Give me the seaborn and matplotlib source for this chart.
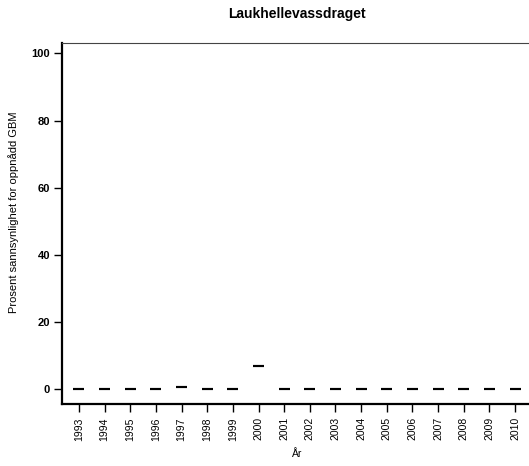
import pandas as pd
import numpy as np
import seaborn as sns
import matplotlib.pyplot as plt

years = [str(y) for y in range(1993, 2011)]
values = [0.1, 0.1, 0.1, 0.1, 0.8, 0.1, 0.1, 6.9, 0.1, 0.1,
          0.1, 0.1, 0.1, 0.1, 0.1, 0.1, 0.1, 0.1]
yticks = [0, 20, 40, 60, 80, 100]

df = pd.DataFrame({'year': years, 'value': values})

sns.set_style('white')
plt.rcParams['font.family'] = ['Liberation Sans', 'DejaVu Sans']
plt.rcParams['text.color'] = 'black'
plt.rcParams['axes.labelcolor'] = 'black'
plt.rcParams['xtick.color'] = 'black'
plt.rcParams['ytick.color'] = 'black'

fig = plt.figure(figsize=(5.29, 4.66), dpi=100)
ax = fig.add_axes([62/529, 1 - 404/466, 470/529, (404 - 42.7)/466])

sns.boxplot(data=df, x='year', y='value', ax=ax, width=0.43,
            color='white', linecolor='black', linewidth=1.5,
            showcaps=False, showfliers=False)

ax.set_xlim(-0.66, 17.66)
ax.set_ylim(-4.4, 103.2)
ax.set_yticks(yticks)
ax.set_yticklabels([str(t) for t in yticks], fontsize=8, fontweight='bold')
ax.set_xticks(range(len(years)))
ax.set_xticklabels(years, rotation=90, fontsize=7.5)

ax.tick_params(axis='both', which='both', direction='out', length=5.5, width=1,
               color='black', labelcolor='black', left=True, bottom=True)
ax.tick_params(axis='x', pad=4)
ax.tick_params(axis='y', pad=3)

for side in ['left', 'bottom']:
    ax.spines[side].set_linewidth(1.6)
    ax.spines[side].set_color('black')
ax.spines['top'].set_linewidth(0.8)
ax.spines['top'].set_color('#444444')
ax.spines['right'].set_visible(False)

ax.set_xlabel('År', fontsize=7.5, labelpad=6)
ax.set_ylabel('Prosent sannsynlighet for oppnådd GBM', fontsize=8)
ax.yaxis.set_label_coords(-0.092, 0.531)
ax.set_title('Laukhellevassdraget', fontsize=10, fontweight='bold', pad=18)

fig.savefig('out.png', dpi=100)
